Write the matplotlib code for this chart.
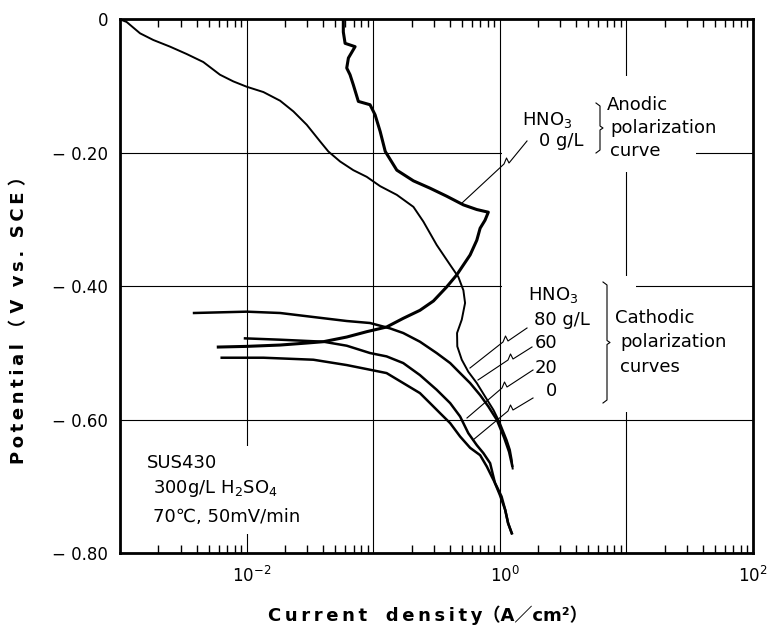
#!/usr/bin/env python3
# -*- coding: utf-8 -*-

"""
Polarization curves of SUS430 in 300 g/L H2SO4 (70 C, 50 mV/min)
anodic curve without HNO3 and cathodic curves with 0-80 g/L HNO3
"""

import numpy as np
import matplotlib
matplotlib.use("Agg")
import matplotlib.pyplot as plt
from matplotlib.lines import Line2D
from matplotlib.patches import Rectangle
from matplotlib.ticker import LogLocator, NullFormatter, FuncFormatter
import matplotlib.transforms as mtransforms

plt.rcParams["font.family"] = ["DejaVu Sans", "Noto Sans CJK JP"]
plt.rcParams["mathtext.default"] = "regular"

# ---- data: current density (A/cm2), potential (V vs. SCE) ----
# anodic polarization curve, HNO3 0 g/L
anodic_i = [5.94e-3, 9.95e-3, 1.83e-2, 2.97e-2, 4.02e-2, 6.15e-2, 8.85e-2, 0.127, 0.172,
            0.233, 0.298, 0.379, 0.455, 0.581, 0.656, 0.697, 0.762, 0.809, 0.656, 0.514,
            0.379, 0.280, 0.207, 0.153, 0.124, 0.113, 0.103, 9.40e-2, 7.60e-2, 6.93e-2,
            6.53e-2, 6.15e-2, 6.34e-2, 7.16e-2, 5.97e-2, 5.78e-2, 5.78e-2]
anodic_v = [-0.491, -0.490, -0.488, -0.485, -0.483, -0.476, -0.468, -0.461, -0.448,
            -0.436, -0.422, -0.401, -0.383, -0.353, -0.331, -0.313, -0.301, -0.289, -0.285, -0.278,
            -0.265, -0.253, -0.242, -0.226, -0.198, -0.168, -0.143, -0.128, -0.123, -0.098,
            -0.083, -0.073, -0.058, -0.041, -0.036, -0.019, -0.001]

# cathodic polarization curves
cath80_i = [1.02e-3, 1.12e-3, 1.43e-3, 1.82e-3, 2.47e-3, 3.34e-3, 4.52e-3, 6.12e-3, 7.80e-3,
            9.95e-3, 1.35e-2, 1.83e-2, 2.33e-2, 2.97e-2, 3.79e-2, 4.40e-2, 5.45e-2, 6.93e-2,
            8.85e-2, 0.113, 0.153, 0.207, 0.248, 0.316, 0.404, 0.469, 0.514, 0.530, 0.499,
            0.458, 0.460, 0.499, 0.562, 0.656, 0.762, 0.887, 1.00, 1.13, 1.20, 1.24, 1.26]
cath80_v = [-0.001, -0.004, -0.021, -0.031, -0.041, -0.052, -0.064, -0.083, -0.093,
            -0.101, -0.109, -0.122, -0.138, -0.158, -0.183, -0.198, -0.213, -0.226,
            -0.236, -0.250, -0.263, -0.281, -0.303, -0.338, -0.368, -0.386, -0.406, -0.425, -0.450,
            -0.470, -0.490, -0.510, -0.528, -0.545, -0.565, -0.585, -0.605, -0.630, -0.645, -0.660, -0.673]

cath60_i = [3.82e-3, 9.95e-3, 1.83e-2, 3.35e-2, 6.15e-2, 9.40e-2, 0.135, 0.172, 0.233, 0.316,
            0.404, 0.484, 0.581, 0.697, 0.809, 0.944, 1.08, 1.18, 1.25]
cath60_v = [-0.440, -0.438, -0.440, -0.446, -0.452, -0.455, -0.463, -0.470, -0.483, -0.500,
            -0.515, -0.530, -0.545, -0.563, -0.580, -0.600, -0.627, -0.648, -0.669]

cath20_i = [9.66e-3, 1.83e-2, 4.02e-2, 6.15e-2, 9.40e-2, 0.127, 0.172, 0.233, 0.316, 0.404,
            0.484, 0.562, 0.656, 0.740, 0.836, 0.887, 0.914, 1.00, 1.10, 1.16, 1.24]
cath20_v = [-0.478, -0.480, -0.483, -0.489, -0.500, -0.505, -0.515, -0.533, -0.555, -0.575,
            -0.595, -0.620, -0.638, -0.650, -0.665, -0.685, -0.695, -0.713, -0.735, -0.755, -0.770]

cath0_i = [6.32e-3, 1.35e-2, 3.35e-2, 6.15e-2, 9.40e-2, 0.127, 0.172, 0.233, 0.280, 0.336,
           0.404, 0.484, 0.581, 0.697, 0.787, 0.861, 0.944, 1.03, 1.10, 1.16, 1.24]
cath0_v = [-0.507, -0.507, -0.510, -0.518, -0.525, -0.530, -0.545, -0.560, -0.575, -0.590,
           -0.605, -0.625, -0.642, -0.653, -0.670, -0.685, -0.700, -0.715, -0.735, -0.755, -0.770]

y_ticks = [0, -0.2, -0.4, -0.6, -0.8]
y_ticklabels = ["0", "\u2212 0.20", "\u2212 0.40", "\u2212 0.60", "\u2212 0.80"]

W, H = 769, 626


def fx(px):
    return px / W


def fy(py):
    return 1 - py / H


def spaced(s, sep="\u2009"):
    return sep.join(s)


fig = plt.figure(figsize=(W / 100, H / 100), dpi=100)
ax = fig.add_axes([fx(120.4), fy(553.3), fx(753) - fx(120.4), fy(19.3) - fy(553.3)])

ax.set_xscale("log")
ax.set_xlim(1e-3, 1e2)
ax.set_ylim(-0.8, 0)

# curves
ax.plot(cath80_i, cath80_v, color="black", lw=1.4, zorder=3)
ax.plot(cath60_i, cath60_v, color="black", lw=1.8, zorder=3)
ax.plot(cath20_i, cath20_v, color="black", lw=1.8, zorder=3)
ax.plot(cath0_i, cath0_v, color="black", lw=1.8, zorder=3)
ax.plot(anodic_i, anodic_v, color="black", lw=2.2, zorder=3)

# axes, ticks, grid
ax.xaxis.set_major_locator(LogLocator(base=10, numticks=20))
ax.xaxis.set_major_formatter(FuncFormatter(
    lambda v, pos: f"$10^{{{int(round(np.log10(v)))}}}$" if int(round(np.log10(v))) % 2 == 0 else ""))
ax.xaxis.set_minor_locator(LogLocator(base=10, subs=np.arange(2, 10), numticks=20))
ax.xaxis.set_minor_formatter(NullFormatter())
ax.tick_params(axis="x", which="major", length=0, pad=9, labelsize=12)
ax.tick_params(axis="x", which="minor", direction="in", top=True, bottom=True,
               length=6, width=1.0, color="black")
ax.set_yticks(y_ticks)
ax.set_yticklabels(y_ticklabels)
ax.tick_params(axis="y", which="major", length=0, pad=9, labelsize=12)
fig.canvas.draw()
offset = mtransforms.ScaledTranslation(5 / 100, 0, fig.dpi_scale_trans)
for lbl in ax.get_xticklabels():
    if lbl.get_text() == "$10^{2}$":
        lbl.set_horizontalalignment("right")
        lbl.set_transform(lbl.get_transform()
                          + mtransforms.ScaledTranslation(15 / 100, 0, fig.dpi_scale_trans))
    else:
        lbl.set_transform(lbl.get_transform() + offset)

ax.set_axisbelow(True)
ax.grid(True, which="major", color="black", linewidth=0.8)
for s in ax.spines.values():
    s.set_linewidth(2.0)

# blank the grid where the notes sit
for x0, y0, x1, y1 in [(238, 446, 256, 534), (502.5, 76, 696, 172), (502.5, 276, 636, 412)]:
    ax.add_patch(Rectangle((fx(x0), fy(y1)), fx(x1) - fx(x0), fy(y0) - fy(y1),
                           transform=fig.transFigure, facecolor="white",
                           edgecolor="none", zorder=1))

# axis labels
fig.text(fx(19), fy(316), spaced("Potential") + " \uff08 " + spaced("V") + "  " + spaced("vs.")
         + "  " + spaced("SCE") + " \uff09", rotation=90, ha="center", va="center",
         fontsize=13, fontweight="bold")
fig.text(fx(428), fy(615), spaced("Current") + "   " + spaced("density") + "\uff08A\uff0fcm\u00b2\uff09",
         ha="center", va="center", fontsize=13, fontweight="bold")


# pointer lines with a small zigzag break
def pointer(start, brk, end):
    bx, by = brk
    xs = [start[0], bx, bx - 2.5, bx - 5, end[0]]
    ys = [start[1], by, by - 5, by + 1, end[1]]
    fig.add_artist(Line2D([fx(x) for x in xs], [fy(y) for y in ys],
                          transform=fig.transFigure, color="black", lw=0.8, zorder=5))


pointer((527, 141), (509, 163), (462, 203))
pointer((527, 328), (508, 341), (470, 368))
pointer((532, 347), (513, 359), (478, 380))
pointer((533, 370), (507, 387), (467, 418))
pointer((533, 398), (513, 410), (473, 440))


def brace(x, y0, y1):
    ym = (y0 + y1) / 2
    xs = [x - 4, x, x, x + 3, x, x, x - 4]
    ys = [y0, y0 + 3, ym - 2, ym, ym + 2, y1 - 3, y1]
    fig.add_artist(Line2D([fx(v) for v in xs], [fy(v) for v in ys],
                          transform=fig.transFigure, color="black", lw=0.8))


brace(600, 103, 153)
brace(607, 282, 403)

# notes
fs = 13
fig.text(fx(521.7), fy(125), "HNO$_3$", fontsize=fs, ha="left", va="baseline")
fig.text(fx(539.3), fy(146), "0 g/L", fontsize=fs, ha="left", va="baseline")
fig.text(fx(607), fy(110), "Anodic", fontsize=fs, ha="left", va="baseline")
fig.text(fx(610), fy(133), "polarization", fontsize=fs, ha="left", va="baseline")
fig.text(fx(610), fy(156.5), "curve", fontsize=fs, ha="left", va="baseline")

fig.text(fx(528), fy(300), "HNO$_3$", fontsize=fs, ha="left", va="baseline")
fig.text(fx(534), fy(325), "80 g/L", fontsize=fs, ha="left", va="baseline")
fig.text(fx(535), fy(348.3), "60", fontsize=fs, ha="left", va="baseline")
fig.text(fx(535), fy(372.7), "20", fontsize=fs, ha="left", va="baseline")
fig.text(fx(546), fy(396), "0", fontsize=fs, ha="left", va="baseline")
fig.text(fx(615), fy(323.3), "Cathodic", fontsize=fs, ha="left", va="baseline")
fig.text(fx(620), fy(346.7), "polarization", fontsize=fs, ha="left", va="baseline")
fig.text(fx(620), fy(371.7), "curves", fontsize=fs, ha="left", va="baseline")

fig.text(fx(146.7), fy(468.3), "SUS430", fontsize=fs, ha="left", va="baseline")
fig.text(fx(153.3), fy(493.3), "300g/L H$_2$SO$_4$", fontsize=fs, ha="left", va="baseline")
fig.text(fx(153.3), fy(521.7), "70\u2103, 50mV/min", fontsize=fs, ha="left", va="baseline")

fig.savefig("out.png", dpi=100)
